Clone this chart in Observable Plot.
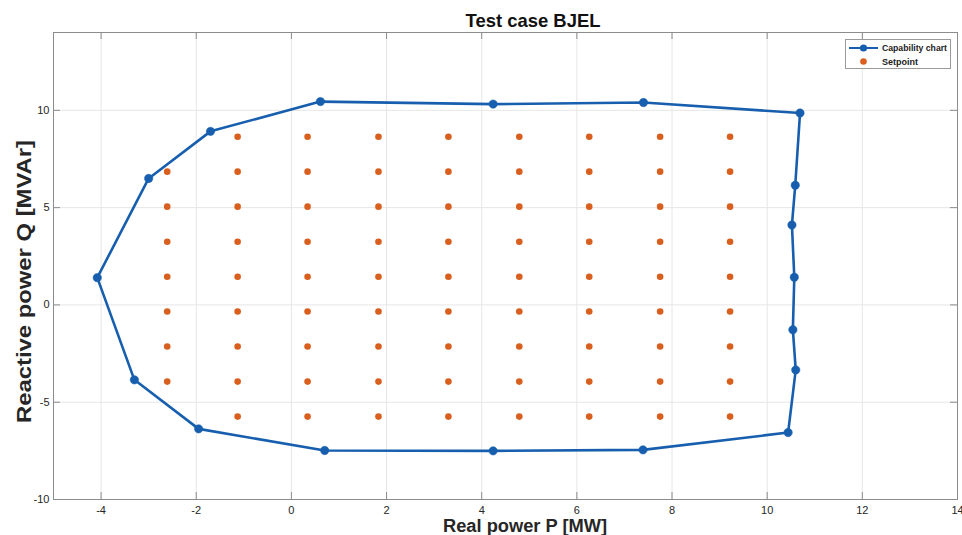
<!DOCTYPE html>
<html><head><meta charset="utf-8">
<script src="https://cdn.jsdelivr.net/npm/d3@7"></script>
<script src="https://cdn.jsdelivr.net/npm/@observablehq/plot@0.6"></script>
<style>body{margin:0;background:#fff} svg{display:block}</style>
</head><body><div id="chart"></div>
<script>
// Capability chart polygon (Real power P [MW], Reactive power Q [MVAr])
const capP = [-4.08, -3.00, -1.70, 0.61, 4.24, 7.40, 10.69, 10.59, 10.52, 10.57, 10.54, 10.60, 10.44, 7.39, 4.24, 0.70, -1.95, -3.30];
const capQ = [1.40, 6.50, 8.92, 10.45, 10.32, 10.40, 9.86, 6.15, 4.11, 1.42, -1.28, -3.34, -6.56, -7.45, -7.50, -7.48, -6.37, -3.85];
// Setpoint grid
const setCols = [-2.61, -1.13, 0.34, 1.83, 3.30, 4.79, 6.26, 7.75, 9.22];
const setRows = [8.64, 6.85, 5.05, 3.25, 1.45, -0.34, -2.14, -3.94, -5.74];
const firstColRows = [6.85, 5.05, 3.25, 1.45, -0.34, -2.14, -3.94];
const xTicks = [-4, -2, 0, 2, 4, 6, 8, 10, 12, 14];
const yTicks = [-10, -5, 0, 5, 10];
const titleText = "Test case BJEL";
const xLabel = "Real power P [MW]";
const yLabel = "Reactive power Q [MVAr]";
const legendNames = ["Capability chart", "Setpoint"];

const capData = capP.map((p, i) => ({p, q: capQ[i]}));
const capClosed = capData.concat([capData[0]]);
const setData = [];
setCols.forEach((p, ci) => {
  const rows = ci === 0 ? firstColRows : setRows;
  rows.forEach(q => setData.push({p, q}));
});

const W = 962, H = 535, mL = 53, mR = 5, mT = 32, mB = 36;
const plotW = W - mL - mR, plotH = H - mT - mB;
const blue = "#175fae", orange = "#d95f1e", axisCol = "#8c8c8c", tickLen = 7;
const font = "'Liberation Sans', Arial, Helvetica, sans-serif";

const chart = Plot.plot({
  width: W, height: H,
  marginLeft: mL, marginRight: mR, marginTop: mT, marginBottom: mB,
  style: {fontFamily: font, background: "white", color: "#262626"},
  x: {domain: [-5, 14]},
  y: {domain: [-10, 14]},
  marks: [
    Plot.gridX(xTicks, {stroke: "#e6e6e6", strokeOpacity: 1}),
    Plot.gridY(yTicks, {stroke: "#e6e6e6", strokeOpacity: 1}),
    Plot.tickX(xTicks, {x: d => d, insetTop: plotH - tickLen, stroke: axisCol}),
    Plot.tickX(xTicks, {x: d => d, insetBottom: plotH - tickLen, stroke: axisCol}),
    Plot.tickY(yTicks, {y: d => d, insetRight: plotW - tickLen, stroke: axisCol}),
    Plot.tickY(yTicks, {y: d => d, insetLeft: plotW - tickLen, stroke: axisCol}),
    Plot.axisX(xTicks, {tickSize: 0, tickPadding: 7, fontSize: 11, label: null, tickFormat: d => String(d), fill: "#262626"}),
    Plot.axisY(yTicks, {tickSize: 0, tickPadding: 4, fontSize: 11, label: null, tickFormat: d => String(d), fill: "#262626"}),
    Plot.frame({stroke: axisCol}),
    Plot.line(capClosed, {x: "p", y: "q", stroke: blue, strokeWidth: 2.6, strokeLinejoin: "round"}),
    Plot.dot(capData, {x: "p", y: "q", r: 4.2, fill: blue, stroke: blue, strokeWidth: 0.5}),
    Plot.dot(setData, {x: "p", y: "q", r: 3.3, fill: orange})
  ]
});

const svg = d3.select(chart);
// Title and axis labels
svg.append("text").attr("x", 533).attr("y", 27).attr("text-anchor", "middle")
  .attr("font-family", font).attr("font-weight", "bold").attr("font-size", 19)
  .attr("textLength", 135).attr("lengthAdjust", "spacingAndGlyphs").attr("fill", "#111").text(titleText);
svg.append("text").attr("x", 525).attr("y", 532).attr("text-anchor", "middle")
  .attr("font-family", font).attr("font-weight", "bold").attr("font-size", 18)
  .attr("textLength", 164).attr("lengthAdjust", "spacingAndGlyphs").attr("fill", "#262626").text(xLabel);
svg.append("text").attr("transform", "translate(31,281.5) rotate(-90)").attr("text-anchor", "middle")
  .attr("font-family", font).attr("font-weight", "bold").attr("font-size", 21)
  .attr("textLength", 283).attr("lengthAdjust", "spacingAndGlyphs").attr("fill", "#262626").text(yLabel);

// Legend
const lg = svg.append("g").attr("text-anchor", "start");
lg.append("rect").attr("x", 845.5).attr("y", 39.5).attr("width", 105).attr("height", 29)
  .attr("fill", "white").attr("stroke", "#9a9a9a");
lg.append("line").attr("x1", 849).attr("x2", 878).attr("y1", 48).attr("y2", 48)
  .attr("stroke", blue).attr("stroke-width", 2);
lg.append("circle").attr("cx", 863.5).attr("cy", 48).attr("r", 3.6).attr("fill", blue);
lg.append("circle").attr("cx", 863.5).attr("cy", 61.5).attr("r", 3.3).attr("fill", orange);
lg.append("text").attr("x", 882).attr("y", 51).attr("text-anchor", "start").attr("font-family", font).attr("font-size", 9.5)
  .attr("font-weight", "bold").attr("textLength", 65).attr("lengthAdjust", "spacingAndGlyphs")
  .attr("fill", "#222").text(legendNames[0]);
lg.append("text").attr("x", 882).attr("y", 64.5).attr("text-anchor", "start").attr("font-family", font).attr("font-size", 9.5)
  .attr("font-weight", "bold").attr("textLength", 36).attr("lengthAdjust", "spacingAndGlyphs")
  .attr("fill", "#222").text(legendNames[1]);

document.getElementById("chart").appendChild(chart);
</script>
</body></html>
